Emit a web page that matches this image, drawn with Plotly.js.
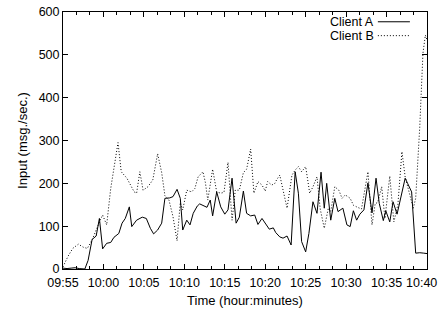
<!DOCTYPE html>
<html><head><meta charset="utf-8">
<script src="https://cdn.plot.ly/plotly-3.0.1.min.js"></script>
<style>html,body{margin:0;padding:0;background:#fff}#chart{width:440px;height:314px}</style>
</head><body><div id="chart"></div>
<script>
// minutes after 09:55
const minutesA = [0,0.5,1,1.5,2,2.7,3.1,3.6,4.1,4.5,4.9,5.4,5.9,6.3,6.9,7.3,7.7,8.2,8.5,9.1,9.8,10.3,10.8,11.2,11.7,12.2,12.6,13.2,13.6,14.1,14.5,14.8,15.3,15.7,16.1,16.6,16.9,17.3,17.8,18.2,18.5,19.0,19.5,20.0,20.4,20.9,21.4,21.8,22.3,22.7,23.2,23.7,24.1,24.6,25.1,25.5,26.0,26.3,26.8,27.2,27.7,28.2,28.7,29.1,29.5,30.0,30.4,30.9,31.4,31.9,32.3,32.6,33.1,33.6,34.0,34.6,35.1,35.5,35.9,36.3,36.7,37.2,37.7,38.2,38.7,39.1,39.6,39.9,40.4,40.8,41.3,41.8,42.3,42.6,43.1,43.6,44.1,44.6,45.0];
const clientA = [2,1,2,3,1,0,20,69,77,118,47,60,62,74,83,107,118,145,99,114,121,118,95,82,91,107,165,166,169,186,165,91,114,103,130,147,152,149,144,161,124,180,145,128,138,212,107,121,182,130,124,126,104,118,103,93,96,85,75,72,77,56,227,177,64,40,83,157,130,226,142,200,114,165,134,142,103,99,136,114,128,138,201,131,212,153,113,136,110,157,128,173,212,200,180,37,38,37,36];
const minutesB = [0,0.6,1.2,1.9,2.5,3.0,3.6,4.1,4.6,4.9,5.4,5.9,6.8,7.2,7.9,8.8,9.1,9.5,9.9,10.5,11.1,11.7,12.2,12.6,13.1,13.6,14.1,14.5,14.8,15.3,15.9,16.3,16.7,17.3,17.6,17.9,18.5,19.0,19.5,19.9,20.4,20.9,21.3,21.8,22.3,22.7,23.2,23.6,24.1,24.6,25.0,25.3,25.8,26.2,26.4,26.8,27.2,27.7,28.3,28.7,29.1,29.5,30.0,30.5,30.9,31.4,31.8,32.3,32.8,33.1,33.6,34.1,34.5,34.9,35.5,35.9,36.3,36.9,37.7,38.2,38.6,38.9,39.4,39.8,40.4,40.9,41.4,41.9,42.3,42.6,43.3,43.6,44.1,44.5,44.8,45.0];
const clientB = [5,29,48,58,51,48,68,93,114,126,103,188,295,227,212,180,177,227,184,192,208,269,225,171,161,122,66,155,138,184,180,188,215,227,202,161,233,180,177,179,249,114,184,184,225,233,280,177,204,196,182,204,196,200,208,219,184,142,219,231,239,227,239,177,192,215,140,95,142,134,192,184,165,173,165,149,145,140,227,103,153,155,192,118,217,110,150,274,215,192,142,165,330,504,546,535];
const tickMinutes = [0,5,10,15,20,25,30,35,40,45];
const tickLabels = ["09:55","10:00","10:05","10:10","10:15","10:20","10:25","10:30","10:35","10:40"];
const seriesNames = ["Client A","Client B"];

const FAMILY = '"Liberation Sans", Arial, Helvetica, sans-serif';
const FONT = {family:FAMILY, size:13, color:'#000'};
const TICKFONT = {family:FAMILY, size:12.5, color:'#000'};
const LEGFONT = {family:FAMILY, size:12.5, color:'#000'};

const traces = [
  {x:minutesA, y:clientA, type:'scatter', mode:'lines', name:seriesNames[0],
   line:{color:'#000', width:1}, showlegend:false, hoverinfo:'skip'},
  {x:minutesB, y:clientB, type:'scatter', mode:'lines', name:seriesNames[1],
   line:{color:'#000', width:1, dash:'1px,2px'}, showlegend:false, hoverinfo:'skip'}
];

const axisCommon = {
  showline:true, linecolor:'#000', linewidth:1, mirror:'ticks',
  ticks:'inside', ticklen:5, tickwidth:1, tickcolor:'#000',
  showgrid:false, zeroline:false, tickfont:TICKFONT
};

// the last time label sits at the page edge; it is drawn as a text kept inside the page
const lastLabel = tickLabels[tickLabels.length - 1];
const shownTickText = tickLabels.slice(0, -1).concat(['']);

const layout = {
  width:440, height:314,
  margin:{l:63, r:13, t:12, b:45},
  paper_bgcolor:'#fff', plot_bgcolor:'#fff',
  font:FONT,
  xaxis:Object.assign({}, axisCommon, {
    range:[0,45], tickmode:'array', tickvals:tickMinutes, ticktext:shownTickText,
    ticklabelstandoff:2,
    minor:{ticks:'inside', ticklen:3, tickwidth:1, tickcolor:'#000', dtick:5/3, tick0:0, showgrid:false},
    title:{text:'Time (hour:minutes)', font:FONT, standoff:6}
  }),
  yaxis:Object.assign({}, axisCommon, {
    range:[0,600], tickmode:'linear', tick0:0, dtick:100,
    title:{text:'Input (msg./sec.)', font:FONT, standoff:8}
  }),
  showlegend:false,
  annotations:[
    {xref:'paper', yref:'paper', x:0.857, y:0.962, xanchor:'right', yanchor:'middle',
     text:seriesNames[0], showarrow:false, font:LEGFONT, borderpad:0},
    {xref:'paper', yref:'paper', x:0.857, y:0.908, xanchor:'right', yanchor:'middle',
     text:seriesNames[1], showarrow:false, font:LEGFONT, borderpad:0},
    {xref:'paper', yref:'paper', x:1.031, y:-0.055, xanchor:'right', yanchor:'middle',
     text:lastLabel, showarrow:false, font:TICKFONT, borderpad:0}
  ],
  shapes:[
    {type:'line', xref:'paper', yref:'paper', x0:0.865, x1:0.953, y0:0.962, y1:0.962,
     line:{color:'#000', width:1}},
    {type:'line', xref:'paper', yref:'paper', x0:0.865, x1:0.953, y0:0.908, y1:0.908,
     line:{color:'#000', width:1, dash:'1px,2px'}}
  ]
};

Plotly.newPlot('chart', traces, layout, {staticPlot:true, displayModeBar:false});
</script>
</body></html>
